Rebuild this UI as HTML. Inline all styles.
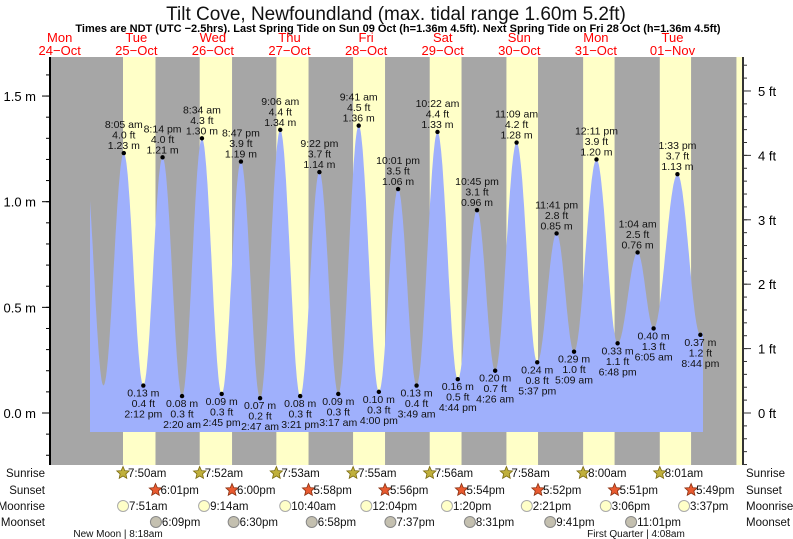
<!DOCTYPE html>
<html><head><meta charset="utf-8"><style>
body{margin:0;background:#fff;}
svg{display:block;font-family:"Liberation Sans",sans-serif;}
</style></head><body>
<svg id="chart" width="793" height="539" viewBox="0 0 793 539" xmlns="http://www.w3.org/2000/svg">
<text x="396" y="20" font-size="19" text-anchor="middle" fill="#111">Tilt Cove, Newfoundland (max. tidal range 1.60m 5.2ft)</text>
<text x="398" y="32" font-size="11" font-weight="bold" text-anchor="middle" fill="#000">Times are NDT (UTC −2.5hrs). Last Spring Tide on Sun 09 Oct (h=1.36m 4.5ft). Next Spring Tide on Fri 28 Oct (h=1.36m 4.5ft)</text>
<g id="bg"></g>
<g id="days"></g>
<g id="tide"></g>
<g id="axes"></g>
<g id="labels"></g>
<g id="almanac"></g>
</svg>
<script>
// ---- data ----
const dayNames = ["Mon","Tue","Wed","Thu","Fri","Sat","Sun","Mon","Tue"];
const dayDates = ["24\u2212Oct","25\u2212Oct","26\u2212Oct","27\u2212Oct","28\u2212Oct","29\u2212Oct","30\u2212Oct","31\u2212Oct","01\u2212Nov"];
// tide events: hours since 25-Oct 00:00
const tideHours = [-4.25,1.7,8.083,14.2,20.233,26.333,32.567,38.75,44.783,50.783,57.1,63.35,69.367,75.283,81.683,88,94.017,99.817,106.367,112.733,118.75,124.433,131.15,137.617,143.683,149.15,156.183,162.8,169.067,174.083,181.55,188.733,195.0];
const tideValues = [1.22,0.13,1.23,0.13,1.21,0.08,1.30,0.09,1.19,0.07,1.34,0.08,1.14,0.09,1.36,0.10,1.06,0.13,1.33,0.16,0.96,0.20,1.28,0.24,0.85,0.29,1.20,0.33,0.76,0.40,1.13,0.37,0.70];
const tideFeet = ["","","4.0","0.4","4.0","0.3","4.3","0.3","3.9","0.2","4.4","0.3","3.7","0.3","4.5","0.3","3.5","0.4","4.4","0.5","3.1","0.7","4.2","0.8","2.8","1.0","3.9","1.1","2.5","1.3","3.7","1.2",""];
const tideTimes = ["","","8:05 am","2:12 pm","8:14 pm","2:20 am","8:34 am","2:45 pm","8:47 pm","2:47 am","9:06 am","3:21 pm","9:22 pm","3:17 am","9:41 am","4:00 pm","10:01 pm","3:49 am","10:22 am","4:44 pm","10:45 pm","4:26 am","11:09 am","5:37 pm","11:41 pm","5:09 am","12:11 pm","6:48 pm","1:04 am","6:05 am","1:33 pm","8:44 pm",""];
const sunriseHours = [7.833,7.867,7.883,7.917,7.933,7.967,8.0,8.017,8.033];
const sunsetHours = [18.017,18.0,17.967,17.933,17.9,17.867,17.85,17.817];
const sunriseText = ["7:50am","7:52am","7:53am","7:55am","7:56am","7:58am","8:00am","8:01am"];
const sunsetText = ["6:01pm","6:00pm","5:58pm","5:56pm","5:54pm","5:52pm","5:51pm","5:49pm"];
const moonriseHours = [7.85,9.233,10.667,12.067,13.333,14.35,15.1,15.617];
const moonriseText = ["7:51am","9:14am","10:40am","12:04pm","1:20pm","2:21pm","3:06pm","3:37pm"];
const moonsetHours = [18.15,18.5,18.967,19.617,20.517,21.683,23.017];
const moonsetText = ["6:09pm","6:30pm","6:58pm","7:37pm","8:31pm","9:41pm","11:01pm"];
const mTicks = [0,0.5,1.0,1.5];
const ftTicks = [0,1,2,3,4,5];

// ---- scales ----
const X0=50, X1=743, Y0=57, Y1=465, DAY=76.6, MID=98.0;
const x = h => MID + h*DAY/24;
const y = m => 413 - m*211.3;
const NS="http://www.w3.org/2000/svg";
function mk(parent,tag,attrs,text){const e=document.createElementNS(NS,tag);for(const k in attrs)e.setAttribute(k,attrs[k]);if(text!==undefined)e.textContent=text;document.getElementById(parent).appendChild(e);return e;}

// background
let r=mk('bg','rect',{x:X0,y:Y0,width:X1-X0,height:Y1-Y0,fill:'#a6a6a6'});


for(let d=0;d<sunriseHours.length;d++){
  const a=x(d*24+sunriseHours[d]);
  const b=d<sunsetHours.length?x(d*24+sunsetHours[d]):X1;
  const e=mk('bg','rect',{x:a,y:Y0,width:Math.min(b,X1)-a,height:Y1-Y0,fill:'#ffffc8'});
  
  
}
// day labels
for(let i=0;i<dayNames.length;i++){
  const cx=x(i*24-12);
  const t1=mk('days','text',{x:cx,y:42,'font-size':13,'text-anchor':'middle',fill:'#f00'},dayNames[i]);
  
  
  const t2=mk('days','text',{x:cx,y:55,'font-size':13,'text-anchor':'middle',fill:'#f00'},dayDates[i]);
  
  
}
// tide curve
function tideAt(h){
  for(let i=0;i<tideHours.length-1;i++){
    if(h>=tideHours[i]&&h<=tideHours[i+1]){
      const f=(h-tideHours[i])/(tideHours[i+1]-tideHours[i]);
      return tideValues[i]+(tideValues[i+1]-tideValues[i])*(1-Math.cos(Math.PI*f))/2;
    }
  }
  return tideValues[tideValues.length-1];
}
const hStart=(90-MID)*24/DAY, hEnd=(703-MID)*24/DAY, yBase=432;
let d=`M${x(hStart)},${yBase}`;
for(let h=hStart;h<=hEnd;h+=0.2)d+=` L${x(h).toFixed(1)},${y(tideAt(h)).toFixed(1)}`;
d+=` L${x(hEnd)},${y(tideAt(hEnd))} L${x(hEnd)},${yBase} Z`;
const tp=mk('tide','path',{d:d,fill:'#9fb0fc'});


// axes
const la=mk('axes','line',{x1:X0,y1:Y0,x2:X0,y2:Y1,stroke:'#000','stroke-width':2});


const ra=mk('axes','line',{x1:X1,y1:Y0,x2:X1,y2:Y1,stroke:'#333','stroke-width':2});


for(let m=-0.2;m<=1.71;m+=0.1){
  const yy=y(m);
  if(yy<Y0||yy>Y1)continue;
  mk('axes','line',{x1:X0-4,y1:yy,x2:X0,y2:yy,stroke:'#000'});
}
mTicks.forEach(m=>{
  mk('axes','line',{x1:X0-8,y1:y(m),x2:X0,y2:y(m),stroke:'#000'});
  const t=mk('axes','text',{x:X0-14,y:y(m)+5,'font-size':13,'text-anchor':'end',fill:'#000'},m.toFixed(1)+' m');
  
  
});
for(let f=-0.8;f<=5.61;f+=0.2){
  const yy=y(f*0.3048);
  if(yy<Y0||yy>Y1)continue;
  mk('axes','line',{x1:X1,y1:yy,x2:X1+4,y2:yy,stroke:'#333'});
}
ftTicks.forEach(f=>{
  const yy=y(f*0.3048);
  mk('axes','line',{x1:X1,y1:yy,x2:X1+8,y2:yy,stroke:'#333'});
  const t=mk('axes','text',{x:X1+15,y:yy+5,'font-size':13,fill:'#000'},f+' ft');
  
  
});
// event labels
for(let i=2;i<tideHours.length;i++){
  if(!tideTimes[i])continue;
  const px=x(tideHours[i]), py=y(tideValues[i]);
  const isHigh=tideValues[i]>tideValues[i-1];
  const c=mk('labels','circle',{cx:px,cy:py,r:2.2,fill:'#000'});
  
  
  const lines=isHigh?[tideTimes[i],tideFeet[i]+' ft',tideValues[i].toFixed(2)+' m']:[tideValues[i].toFixed(2)+' m',tideFeet[i]+' ft',tideTimes[i]];
  const base=isHigh?py-25:py+11;
  lines.forEach((s,k)=>{
    const t=mk('labels','text',{x:px,y:base+k*10.5,'font-size':10.5,'text-anchor':'middle',fill:'#111'},s);
    
    
  });
}
// almanac
const rowY=[477,494,510,526];
["Sunrise","Sunset","Moonrise","Moonset"].forEach((s,i)=>{
  const a=mk('almanac','text',{x:45,y:rowY[i],'font-size':11.5,'text-anchor':'end',fill:'#111'},s);
  
  
  const b=mk('almanac','text',{x:746,y:rowY[i],'font-size':11.5,fill:'#111'},s);
  
  
});
function star(cx,cy,fill,stroke){
  let p='';
  for(let k=0;k<10;k++){const rr=k%2?3:6.5;const a=-Math.PI/2+k*Math.PI/5;p+=(k?'L':'M')+(cx+rr*Math.cos(a)).toFixed(1)+','+(cy+rr*Math.sin(a)).toFixed(1);}
  return mk('almanac','path',{d:p+'Z',fill:fill,stroke:stroke,'stroke-width':0.8});
}
sunriseText.forEach((s,i)=>{
  const px=x(i*24+sunriseHours[i]);
  const st=star(px,rowY[0]-4,'#c0b03c','#7a6a10');
  
  
  const t=mk('almanac','text',{x:px+5,y:rowY[0],'font-size':11.5,fill:'#111'},s);
  
  
});
sunsetText.forEach((s,i)=>{
  const px=x(i*24+sunsetHours[i]);
  const st=star(px,rowY[1]-4,'#e85a30','#8a3010');
  
  
  const t=mk('almanac','text',{x:px+5,y:rowY[1],'font-size':11.5,fill:'#111'},s);
  
  
});
moonriseText.forEach((s,i)=>{
  const px=x(i*24+moonriseHours[i]);
  const c=mk('almanac','circle',{cx:px,cy:rowY[2]-4,r:5.5,fill:'#ffffc8',stroke:'#aaa'});
  
  
  const t=mk('almanac','text',{x:px+6,y:rowY[2],'font-size':11.5,fill:'#111'},s);
  
  
});
moonsetText.forEach((s,i)=>{
  const px=x(i*24+moonsetHours[i]);
  const c=mk('almanac','circle',{cx:px,cy:rowY[3]-4,r:5.5,fill:'#c4c0b0',stroke:'#888'});
  
  
  const t=mk('almanac','text',{x:px+6,y:rowY[3],'font-size':11.5,fill:'#111'},s);
  
  
});
const nm=mk('almanac','text',{x:118,y:537,'font-size':10,'text-anchor':'middle',fill:'#111'},'New Moon | 8:18am');


const fq=mk('almanac','text',{x:636,y:537,'font-size':10,'text-anchor':'middle',fill:'#111'},'First Quarter | 4:08am');


</script>
</body></html>
